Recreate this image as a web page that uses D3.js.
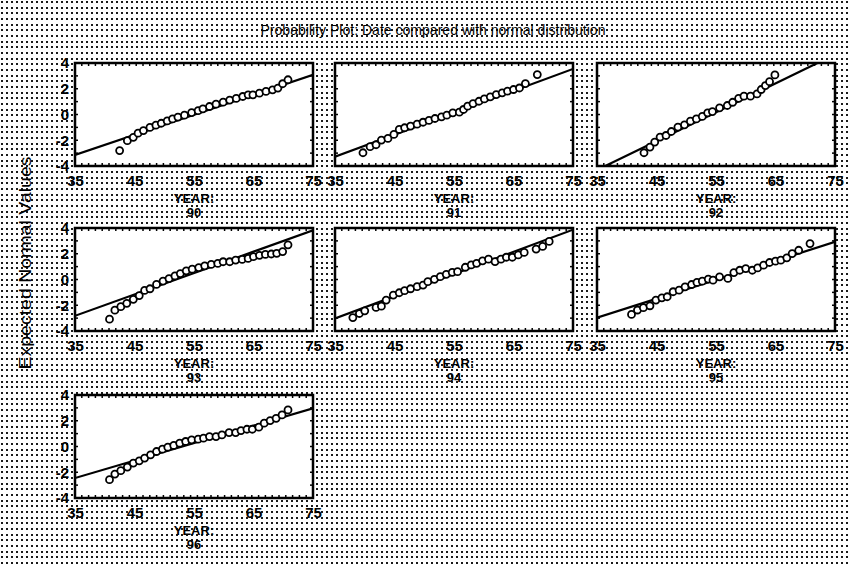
<!DOCTYPE html>
<html>
<head>
<meta charset="utf-8">
<script src="https://cdn.jsdelivr.net/npm/d3@7"></script>
<style>
  html, body { margin: 0; padding: 0; background: #fff; }
  svg { display: block; }
</style>
</head>
<body>
<div id="chart"></div>
<script>
// Normal probability plots, one per year group
const panelLabels = ['90', '91', '92', '93', '94', '95', '96'];
const xTicks = [35, 45, 55, 65, 75];
const yTicks = [-4, -2, 0, 2, 4];

const years90 = [42.5, 43.8, 44.8, 45.6, 46.5, 47.6, 48.6, 49.5, 50.5, 51.4, 52.3, 53.4, 54.6, 55.7, 56.5, 57.6, 58.7, 59.9, 61.0, 62.1, 63.2, 64.1, 64.9, 66.0, 67.1, 68.2, 69.1, 69.9, 70.8];
const normal90 = [-2.8, -2.03, -1.77, -1.45, -1.25, -1.0, -0.83, -0.68, -0.5, -0.34, -0.2, -0.05, 0.15, 0.3, 0.44, 0.62, 0.8, 0.96, 1.12, 1.25, 1.4, 1.53, 1.53, 1.66, 1.79, 1.92, 2.05, 2.39, 2.7];
const fit90 = [-3.14, 3.09];

const years91 = [39.7, 40.9, 41.9, 42.8, 43.9, 44.9, 45.8, 46.7, 47.7, 48.8, 49.8, 50.8, 51.8, 52.9, 53.8, 54.8, 55.9, 56.6, 57.3, 58.2, 59.2, 60.1, 61.1, 62.1, 63.1, 64.0, 65.0, 66.0, 67.0, 69.0];
const normal91 = [-2.97, -2.5, -2.35, -1.99, -1.86, -1.55, -1.16, -1.03, -0.9, -0.75, -0.6, -0.46, -0.31, -0.18, -0.05, 0.13, 0.18, 0.39, 0.65, 0.85, 1.03, 1.21, 1.37, 1.55, 1.68, 1.81, 1.94, 2.06, 2.4, 3.1];
const fit91 = [-3.28, 3.54];

const years92 = [42.9, 43.9, 44.7, 45.6, 46.6, 47.5, 48.6, 49.7, 50.7, 51.7, 52.7, 53.6, 54.4, 55.6, 56.9, 57.8, 58.8, 59.7, 60.8, 61.9, 62.6, 63.3, 64.0, 64.9];
const normal92 = [-2.97, -2.53, -2.14, -1.75, -1.63, -1.32, -0.98, -0.8, -0.52, -0.34, -0.15, 0.13, 0.23, 0.52, 0.7, 0.95, 1.26, 1.42, 1.42, 1.6, 1.94, 2.25, 2.55, 3.07];
const fit92 = [-4.31, 4.66];

const years93 = [40.8, 41.7, 42.7, 43.7, 44.8, 45.8, 46.7, 47.6, 48.7, 49.8, 50.8, 51.8, 52.7, 53.7, 54.7, 55.8, 56.8, 57.9, 59.0, 59.9, 61.0, 62.0, 63.1, 64.1, 65.0, 66.0, 67.0, 68.0, 68.9, 69.9, 70.8];
const normal93 = [-3.08, -2.38, -2.11, -1.85, -1.54, -1.25, -0.85, -0.72, -0.38, -0.12, 0.07, 0.28, 0.46, 0.67, 0.8, 0.93, 1.06, 1.17, 1.25, 1.38, 1.38, 1.51, 1.56, 1.64, 1.77, 1.88, 1.95, 1.98, 2.03, 2.17, 2.69];
const fit93 = [-2.82, 3.82];

const years94 = [38.0, 39.1, 40.0, 41.9, 42.8, 43.6, 44.8, 45.8, 46.7, 47.7, 48.8, 49.8, 50.6, 51.7, 52.7, 53.7, 54.7, 55.6, 56.9, 57.9, 58.8, 59.8, 60.8, 61.9, 62.9, 63.8, 64.8, 65.8, 66.8, 68.8, 69.9, 71.0];
const normal94 = [-2.96, -2.64, -2.43, -2.17, -2.07, -1.6, -1.21, -1.03, -0.87, -0.72, -0.56, -0.43, -0.17, 0.01, 0.22, 0.4, 0.56, 0.61, 0.95, 1.13, 1.26, 1.45, 1.58, 1.39, 1.58, 1.73, 1.73, 1.91, 2.1, 2.36, 2.57, 2.96];
const fit94 = [-3.03, 3.87];

const years95 = [40.8, 41.8, 42.8, 43.9, 44.9, 45.9, 46.8, 47.8, 48.8, 49.8, 50.9, 51.8, 52.7, 53.7, 54.5, 55.6, 57.0, 58.0, 59.0, 60.0, 61.1, 62.0, 63.0, 64.0, 65.0, 65.9, 66.9, 67.8, 68.9, 70.8];
const normal95 = [-2.71, -2.37, -2.19, -2.04, -1.6, -1.42, -1.34, -0.95, -0.83, -0.57, -0.39, -0.23, -0.13, 0.03, -0.05, 0.21, 0.08, 0.54, 0.72, 0.85, 0.72, 0.9, 1.11, 1.32, 1.42, 1.5, 1.68, 2.01, 2.27, 2.79];
const fit95 = [-2.97, 2.92];

const years96 = [40.8, 41.7, 42.7, 43.8, 44.8, 45.8, 46.7, 47.7, 48.7, 49.7, 50.6, 51.6, 52.6, 53.6, 54.6, 55.7, 56.6, 57.6, 58.7, 59.7, 60.9, 62.0, 62.9, 63.9, 64.8, 65.9, 66.8, 67.8, 68.8, 69.8, 70.8];
const normal96 = [-2.58, -2.14, -1.88, -1.6, -1.29, -1.11, -0.9, -0.65, -0.39, -0.21, -0.05, 0.08, 0.26, 0.39, 0.52, 0.57, 0.65, 0.77, 0.77, 0.9, 1.08, 1.08, 1.24, 1.34, 1.34, 1.5, 1.81, 2.01, 2.19, 2.45, 2.84];
const fit96 = [-2.45, 2.97];

const panels = [
    { label: panelLabels[0], years: years90, normal: normal90, fit: fit90 },
    { label: panelLabels[1], years: years91, normal: normal91, fit: fit91 },
    { label: panelLabels[2], years: years92, normal: normal92, fit: fit92 },
    { label: panelLabels[3], years: years93, normal: normal93, fit: fit93 },
    { label: panelLabels[4], years: years94, normal: normal94, fit: fit94 },
    { label: panelLabels[5], years: years95, normal: normal95, fit: fit95 },
    { label: panelLabels[6], years: years96, normal: normal96, fit: fit96 }
];

const width = 851;
const height = 567;
const colX = [75, 335, 597];
const rowY = [63, 228, 395];
const pw = 238;
const ph = 103;
const labelFont = '"Liberation Sans", Arial, sans-serif';

const svg = d3.select('#chart')
    .append('svg')
    .attr('width', width)
    .attr('height', height);

// dotted halftone background
const defs = svg.append('defs');
const pattern = defs.append('pattern')
    .attr('id', 'dots')
    .attr('patternUnits', 'userSpaceOnUse')
    .attr('width', 5)
    .attr('height', 17);
pattern.append('rect').attr('width', 5).attr('height', 17).attr('fill', '#fff');
[1, 7, 12].forEach(py => {
    pattern.append('rect')
        .attr('x', 1).attr('y', py)
        .attr('width', 2).attr('height', 2)
        .attr('fill', '#1a1a1a');
});

svg.append('rect')
    .attr('width', width)
    .attr('height', height)
    .attr('fill', 'url(#dots)');

// title
svg.append('text')
    .attr('x', 433)
    .attr('y', 35)
    .attr('text-anchor', 'middle')
    .attr('textLength', 345)
    .attr('lengthAdjust', 'spacingAndGlyphs')
    .style('font-family', labelFont)
    .style('font-size', '15px')
    .attr('fill', '#000')
    .text('Probability Plot: Date compared with normal distribution');

// shared y label
svg.append('text')
    .attr('transform', 'translate(31,263) rotate(-90)')
    .attr('text-anchor', 'middle')
    .attr('textLength', 213)
    .attr('lengthAdjust', 'spacingAndGlyphs')
    .style('font-family', labelFont)
    .style('font-size', '16px')
    .attr('fill', '#000')
    .text('Expected Normal Values');

const x = d3.scaleLinear().domain([35, 75]).range([0, pw]);
const y = d3.scaleLinear().domain([-4, 4]).range([ph, 0]);

panels.forEach((p, i) => {
    const col = i % 3;
    const row = Math.floor(i / 3);
    const g = svg.append('g')
        .attr('transform', `translate(${colX[col]},${rowY[row]})`);

    g.append('rect')
        .attr('width', pw)
        .attr('height', ph)
        .attr('fill', '#fff');

    const clipId = `clip-${i}`;
    defs.append('clipPath')
        .attr('id', clipId)
        .append('rect')
        .attr('width', pw)
        .attr('height', ph);

    const plot = g.append('g').attr('clip-path', `url(#${clipId})`);

    // fitted normal line
    plot.append('line')
        .attr('x1', x(35))
        .attr('y1', y(p.fit[0]))
        .attr('x2', x(75))
        .attr('y2', y(p.fit[1]))
        .attr('stroke', '#000')
        .attr('stroke-width', 2.2);

    plot.selectAll('circle')
        .data(p.years.map((v, k) => ({ year: v, normal: p.normal[k] })))
        .enter()
        .append('circle')
        .attr('cx', d => x(d.year))
        .attr('cy', d => y(d.normal))
        .attr('r', 3.5)
        .attr('fill', '#fff')
        .attr('stroke', '#000')
        .attr('stroke-width', 1.8);

    // inner tick marks
    const minorX = d3.range(0, 36).map(k => 35 + k * 40 / 35);
    const minorY = d3.range(-4, 5);
    g.append('g').selectAll('line')
        .data(minorX)
        .enter()
        .append('line')
        .attr('x1', d => x(d)).attr('x2', d => x(d))
        .attr('y1', 0).attr('y2', 3)
        .attr('stroke', '#000').attr('stroke-width', 1.5);
    g.append('g').selectAll('line')
        .data(minorX)
        .enter()
        .append('line')
        .attr('x1', d => x(d)).attr('x2', d => x(d))
        .attr('y1', ph).attr('y2', ph - 3)
        .attr('stroke', '#000').attr('stroke-width', 1.5);
    g.append('g').selectAll('line')
        .data(minorY)
        .enter()
        .append('line')
        .attr('x1', 0).attr('x2', 3)
        .attr('y1', d => y(d)).attr('y2', d => y(d))
        .attr('stroke', '#000').attr('stroke-width', 1.5);
    g.append('g').selectAll('line')
        .data(minorY)
        .enter()
        .append('line')
        .attr('x1', pw).attr('x2', pw - 3)
        .attr('y1', d => y(d)).attr('y2', d => y(d))
        .attr('stroke', '#000').attr('stroke-width', 1.5);

    g.append('rect')
        .attr('width', pw)
        .attr('height', ph)
        .attr('fill', 'none')
        .attr('stroke', '#000')
        .attr('stroke-width', 2.5);

    // axes labels
    const xAxis = g.append('g')
        .attr('transform', `translate(0,${ph})`)
        .call(d3.axisBottom(x).tickValues(xTicks).tickSize(0).tickPadding(9));
    xAxis.select('.domain').remove();
    xAxis.selectAll('text')
        .style('font-family', labelFont)
        .style('font-size', '15px')
        .style('font-weight', 'bold')
        .attr('fill', '#000');

    if (col === 0) {
        const yAxis = g.append('g')
            .call(d3.axisLeft(y).tickValues(yTicks).tickSize(0).tickPadding(6)
                .tickFormat(d => (d < 0 ? '-' + Math.abs(d) : String(d))));
        yAxis.select('.domain').remove();
        yAxis.selectAll('text')
            .style('font-family', labelFont)
            .style('font-size', '15px')
            .style('font-weight', 'bold')
            .attr('fill', '#000');
    }

    g.append('text')
        .attr('x', pw / 2)
        .attr('y', ph + 37)
        .attr('text-anchor', 'middle')
        .style('font-family', labelFont)
        .style('font-size', '13px')
        .style('font-weight', 'bold')
        .text('YEAR:');

    g.append('text')
        .attr('x', pw / 2)
        .attr('y', ph + 51)
        .attr('text-anchor', 'middle')
        .style('font-family', labelFont)
        .style('font-size', '13px')
        .style('font-weight', 'bold')
        .text(p.label);
});
</script>
</body>
</html>
